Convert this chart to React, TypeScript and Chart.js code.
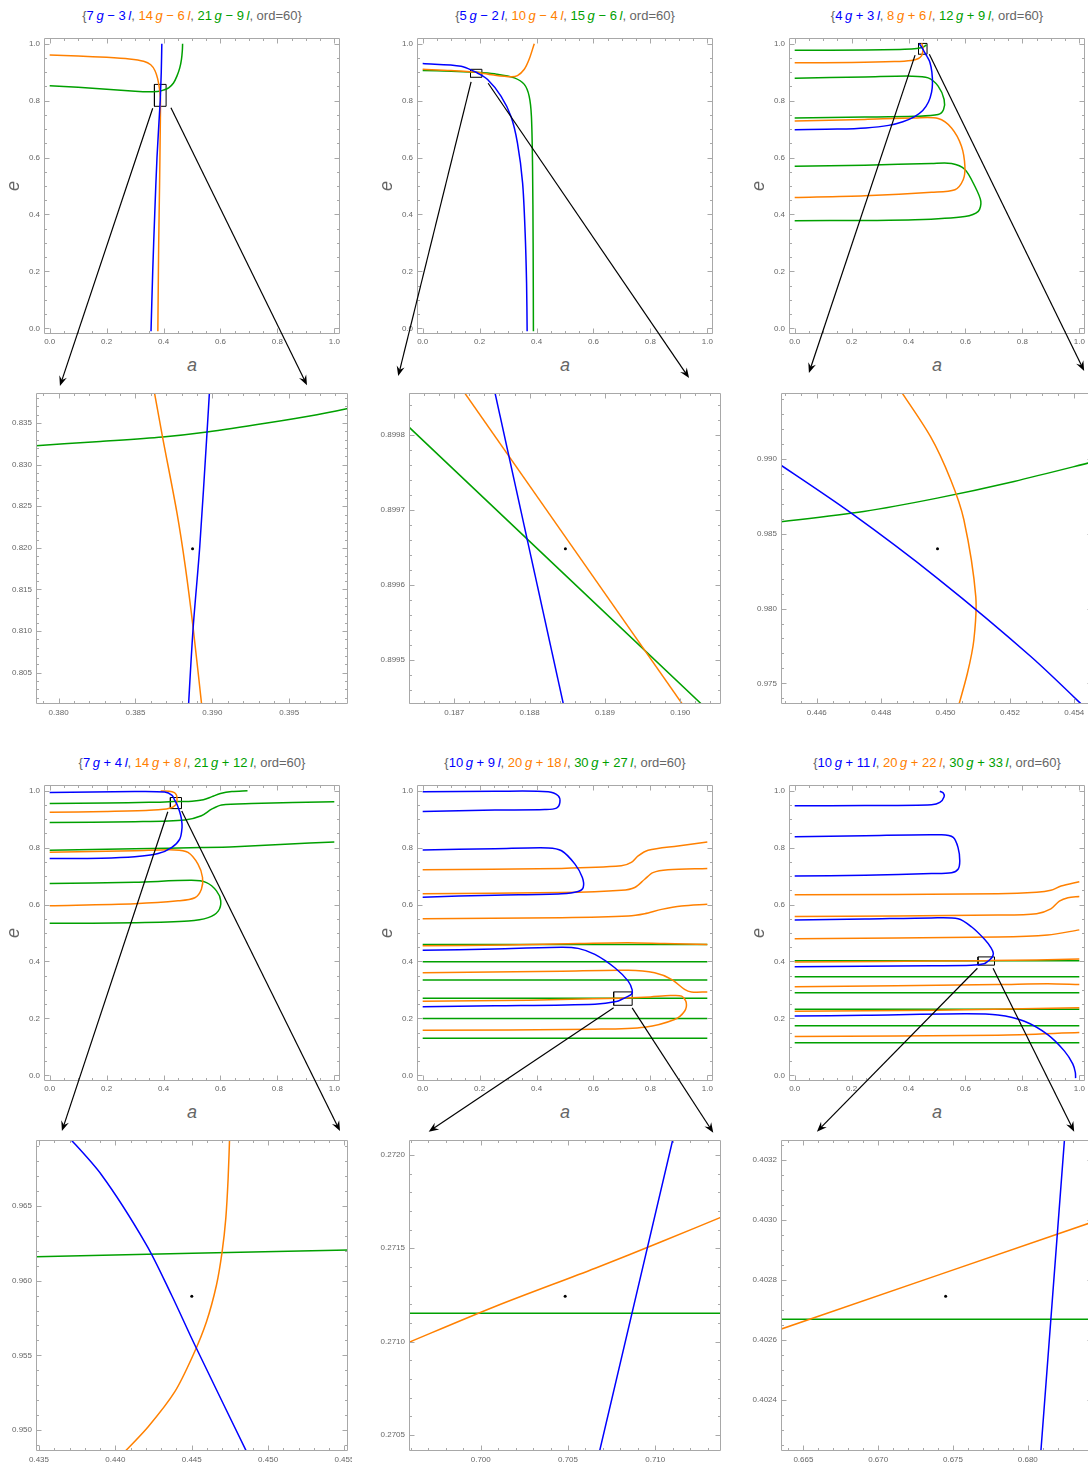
import React, { useEffect, useRef } from 'react';
import { Chart, registerables } from 'chart.js';

Chart.register(...registerables);

const BLUE = '#0000ff';
const ORANGE = '#ff8000';
const GREEN = '#00a000';
const FRAME = '#a8a8a8';
const LABEL = '#666666';
const FONT = "'Liberation Sans', Arial, sans-serif";

// ---------- titles ----------
const TITLE_BLUE = ['7 g − 3 l', '5 g − 2 l', '4 g + 3 l', '7 g + 4 l', '10 g + 9 l', '10 g + 11 l'];
const TITLE_ORANGE = ['14 g − 6 l', '10 g − 4 l', '8 g + 6 l', '14 g + 8 l', '20 g + 18 l', '20 g + 22 l'];
const TITLE_GREEN = ['21 g − 9 l', '15 g − 6 l', '12 g + 9 l', '21 g + 12 l', '30 g + 27 l', '30 g + 33 l'];
const TITLE_ORD = 'ord=60';
const X_LABEL = 'a';
const Y_LABEL = 'e';

// ---------- main plots ----------
const MAIN_RANGE = [-0.02, 1.02];
const MAIN_TICKS = [0.2, 0.05, 1]; // major step, minor step, decimals

// panel 1
const P1_BLUE = [[0.356, -0.01], [0.362, 0.2], [0.369, 0.4], [0.377, 0.6], [0.3884, 0.8013], [0.3898, 0.8386], [0.392, 0.9], [0.394, 1.0]];
const P1_ORANGE = [[0, 0.96], [0.1, 0.957], [0.2, 0.952], [0.28, 0.946], [0.33, 0.938], [0.355, 0.926], [0.37, 0.905], [0.379, 0.878], [0.3845, 0.85], [0.3868, 0.8333], [0.3882, 0.8178], [0.3893, 0.8012], [0.3885, 0.7], [0.386, 0.5], [0.383, 0.3], [0.381, 0.1], [0.38, -0.01]];
const P1_GREEN = [[0, 0.852], [0.1, 0.847], [0.2, 0.84], [0.3, 0.833], [0.35, 0.831], [0.3785, 0.8323], [0.389, 0.8338], [0.3988, 0.8367], [0.418, 0.845], [0.435, 0.862], [0.447, 0.886], [0.457, 0.915], [0.463, 0.945], [0.466, 0.975], [0.467, 1.0]];
const P1_RECT = [0.368, 0.409, 0.780, 0.857];
const P1_ARROWS = [[0.362, 0.773, 0.036, -0.203], [0.426, 0.775, 0.904, -0.2]];

// panel 2
const P2_BLUE = [[0, 0.93], [0.135, 0.921], [0.18754, 0.89986], [0.18845, 0.89944], [0.228, 0.874], [0.275, 0.816], [0.31, 0.745], [0.333, 0.651], [0.351, 0.511], [0.36, 0.334], [0.365, 0.158], [0.367, -0.01]];
const P2_ORANGE = [[0, 0.91], [0.1, 0.906], [0.1871, 0.89986], [0.19, 0.89944], [0.25, 0.89], [0.31, 0.884], [0.333, 0.888], [0.357, 0.91], [0.374, 0.945], [0.392, 1.0]];
const P2_GREEN = [[0, 0.906], [0.1, 0.903], [0.1864, 0.89981], [0.1903, 0.89944], [0.26, 0.893], [0.322, 0.88], [0.357, 0.857], [0.374, 0.816], [0.382, 0.745], [0.386, 0.569], [0.388, 0.3], [0.389, -0.01]];
const P2_RECT = [0.168, 0.208, 0.882, 0.910];
const P2_ARROWS = [[0.17, 0.866, -0.086, -0.168], [0.23, 0.861, 0.936, -0.175]];

// panel 3
const P3_GREEN_1 = [[0, 0.977], [0.25, 0.978], [0.37, 0.98], [0.42, 0.982], [0.444888, 0.9858], [0.44974, 0.98739], [0.454447, 0.98973], [0.46, 0.993], [0.463, 0.996]];
const P3_ORANGE_1 = [[0, 0.933], [0.2, 0.934], [0.35, 0.937], [0.41, 0.941], [0.435, 0.948], [0.446, 0.958], [0.45042, 0.97362], [0.45068, 0.97567], [0.45088, 0.9779], [0.45094, 0.9808], [0.45078, 0.98415], [0.45057, 0.98594], [0.45016, 0.98862], [0.44953, 0.99152], [0.44865, 0.99442], [0.446, 1.002]];
const P3_BLUE = [[0, 0.698], [0.15, 0.7], [0.25, 0.704], [0.33, 0.713], [0.38, 0.726], [0.42, 0.743], [0.45, 0.765], [0.47, 0.795], [0.481, 0.83], [0.484, 0.86], [0.482, 0.9], [0.475, 0.935], [0.465, 0.955], [0.454, 0.97366], [0.45265, 0.97679], [0.44974, 0.98204], [0.447039, 0.98643], [0.444888, 0.98962], [0.441, 0.995], [0.438, 1.0]];
const P3_GREEN_2 = [[0, 0.879], [0.246, 0.883], [0.41, 0.886], [0.469, 0.88], [0.504, 0.851], [0.525, 0.804], [0.523, 0.769], [0.504, 0.751], [0.422, 0.745], [0.246, 0.742], [0, 0.739]];
const P3_ORANGE_2 = [[0, 0.728], [0.246, 0.734], [0.422, 0.739], [0.504, 0.737], [0.551, 0.704], [0.586, 0.64], [0.598, 0.569], [0.592, 0.522], [0.563, 0.487], [0.481, 0.478], [0.246, 0.466], [0, 0.46]];
const P3_GREEN_3 = [[0, 0.569], [0.246, 0.573], [0.481, 0.579], [0.551, 0.579], [0.598, 0.558], [0.633, 0.499], [0.654, 0.446], [0.645, 0.411], [0.598, 0.393], [0.422, 0.381], [0.246, 0.379], [0, 0.378]];
const P3_RECT = [0.435, 0.465, 0.963, 1.001];
const P3_ARROWS = [[0.423, 0.96, 0.05, -0.157], [0.473, 0.963, 1.017, -0.15]];

// panel 4
const P4_BLUE = [[0, 0.994], [0.299, 0.997], [0.404, 0.995], [0.43, 0.9835], [0.439099, 0.967076], [0.442042, 0.962388], [0.445203, 0.955692], [0.448583, 0.948594], [0.457, 0.925], [0.463, 0.9], [0.465, 0.871], [0.457, 0.83], [0.428, 0.8], [0.381, 0.779], [0.299, 0.768], [0.182, 0.763], [0, 0.762]];
const P4_ORANGE_1 = [[0, 0.924], [0.2, 0.927], [0.35, 0.931], [0.41, 0.936], [0.432, 0.942], [0.440625, 0.948594], [0.443895, 0.952567], [0.445966, 0.957254], [0.446991, 0.961942], [0.447384, 0.966853], [0.4472, 0.975], [0.445, 0.985], [0.438, 0.993], [0.42, 0.998], [0.39, 0.999]];
const P4_GREEN_1 = [[0, 0.955], [0.2, 0.957], [0.35, 0.959], [0.4348, 0.9616], [0.4552, 0.9621], [0.5, 0.963], [0.54, 0.968], [0.57, 0.979], [0.6, 0.99], [0.64, 0.997], [0.695, 1.0]];
const P4_GREEN_2 = [[0, 0.888], [0.299, 0.891], [0.475, 0.897], [0.533, 0.912], [0.569, 0.935], [0.604, 0.95], [0.709, 0.955], [1.0, 0.961]];
const P4_GREEN_3 = [[0, 0.791], [0.299, 0.796], [0.533, 0.8], [0.651, 0.803], [0.827, 0.812], [1.0, 0.82]];
const P4_ORANGE_2 = [[0, 0.784], [0.299, 0.789], [0.44, 0.792], [0.486, 0.783], [0.521, 0.742], [0.537, 0.695], [0.533, 0.654], [0.51, 0.624], [0.451, 0.613], [0.299, 0.603], [0, 0.596]];
const P4_GREEN_4 = [[0, 0.674], [0.299, 0.678], [0.498, 0.685], [0.551, 0.677], [0.586, 0.648], [0.601, 0.613], [0.592, 0.577], [0.557, 0.554], [0.487, 0.542], [0.299, 0.536], [0, 0.534]];
const P4_RECT = [0.424, 0.463, 0.937, 0.976];
const P4_ARROWS = [[0.415, 0.926, 0.043, -0.196], [0.464, 0.929, 1.02, -0.196]];

// panel 5
const P5_BLUE_1 = [[0, 0.927], [0.254, 0.932], [0.429, 0.934], [0.47, 0.939], [0.482, 0.959], [0.476, 0.982], [0.441, 0.9965], [0.254, 0.998], [0, 0.9965]];
const P5_BLUE_2 = [[0, 0.792], [0.254, 0.796], [0.441, 0.799], [0.488, 0.789], [0.535, 0.742], [0.561, 0.695], [0.564, 0.66], [0.546, 0.646], [0.488, 0.638], [0.254, 0.633], [0, 0.626]];
const P5_BLUE_3 = [[0, 0.439], [0.254, 0.444], [0.488, 0.45], [0.546, 0.446], [0.605, 0.425], [0.675, 0.378], [0.722, 0.331], [0.736, 0.3], [0.7335, 0.285], [0.711, 0.2721], [0.7068, 0.2704], [0.68, 0.259], [0.605, 0.25], [0.254, 0.244], [0, 0.241]];
const P5_ORANGE_1 = [[0, 0.722], [0.488, 0.727], [0.698, 0.736], [0.733, 0.748], [0.757, 0.771], [0.792, 0.791], [0.897, 0.806], [1.0, 0.82]];
const P5_ORANGE_2 = [[0, 0.638], [0.488, 0.642], [0.698, 0.65], [0.745, 0.66], [0.78, 0.689], [0.809, 0.712], [0.862, 0.722], [1.0, 0.727]];
const P5_ORANGE_3 = [[0, 0.55], [0.488, 0.554], [0.722, 0.56], [0.78, 0.568], [0.839, 0.583], [0.909, 0.595], [1.0, 0.601]];
const P5_ORANGE_4 = [[0, 0.455], [0.3, 0.458], [0.55, 0.463], [0.72, 0.466], [0.85, 0.463], [1.0, 0.46]];
const P5_ORANGE_5 = [[0, 0.36], [0.488, 0.366], [0.722, 0.369], [0.815, 0.36], [0.874, 0.337], [0.92, 0.302], [0.944, 0.293], [1.0, 0.293]];
const P5_ORANGE_6 = [[0, 0.2605], [0.371, 0.264], [0.6, 0.2694], [0.6959, 0.271], [0.7048, 0.27131], [0.7138, 0.27167], [0.8, 0.2755], [0.87, 0.28], [0.91, 0.278], [0.926, 0.255], [0.92, 0.225], [0.885, 0.196], [0.78, 0.169], [0.605, 0.162], [0, 0.158]];
const P5_GREENS = [
  [[0, 0.46], [1, 0.46]],
  [[0, 0.399], [1, 0.399]],
  [[0, 0.3345], [1, 0.3345]],
  [[0, 0.27115], [1, 0.27115]],
  [[0, 0.1995], [1, 0.1995]],
  [[0, 0.1303], [1, 0.1303]],
];
const P5_RECT = [0.671, 0.736, 0.246, 0.293];
const P5_ARROWS = [[0.671, 0.237, 0.021, -0.198], [0.736, 0.237, 1.021, -0.202]];

// panel 6
const P6_BLUE_1 = [[0, 0.947], [0.247, 0.948], [0.481, 0.951], [0.51, 0.959], [0.525, 0.979], [0.522, 0.992], [0.51, 0.998]];
const P6_BLUE_2 = [[0, 0.838], [0.247, 0.842], [0.516, 0.845], [0.557, 0.836], [0.574, 0.8], [0.58, 0.754], [0.574, 0.724], [0.551, 0.712], [0.481, 0.709], [0.247, 0.703], [0, 0.7]];
const P6_BLUE_3 = [[0, 0.546], [0.247, 0.549], [0.481, 0.553], [0.574, 0.55], [0.621, 0.522], [0.667, 0.478], [0.69, 0.448], [0.698, 0.428], [0.693, 0.414], [0.6824, 0.40327], [0.6809, 0.40223], [0.665, 0.392], [0.62, 0.3865], [0.481, 0.385], [0, 0.381]];
const P6_BLUE_4 = [[0, 0.208], [0.247, 0.211], [0.597, 0.216], [0.714, 0.212], [0.807, 0.19], [0.889, 0.143], [0.948, 0.085], [0.977, 0.04], [0.986, 0.01], [0.987, -0.01]];
const P6_ORANGES = [
  [[0, 0.634], [0.714, 0.638], [0.85, 0.643], [0.9, 0.65], [0.936, 0.665], [1.0, 0.68]],
  [[0, 0.558], [0.714, 0.563], [0.85, 0.568], [0.9, 0.585], [0.93, 0.612], [0.96, 0.624], [1.0, 0.628]],
  [[0, 0.48], [0.714, 0.486], [0.889, 0.493], [1.0, 0.511]],
  [[0, 0.398], [0.3, 0.4], [0.6635, 0.40264], [0.6844, 0.403], [0.85, 0.405], [1.0, 0.409]],
  [[0, 0.311], [0.714, 0.319], [0.889, 0.322], [1.0, 0.319]],
  [[0, 0.225], [0.5, 0.229], [1.0, 0.237]],
  [[0, 0.136], [0.714, 0.141], [1.0, 0.15]],
];
const P6_GREENS = [
  [[0, 0.402669], [1, 0.402669]],
  [[0, 0.346], [1, 0.346]],
  [[0, 0.29], [1, 0.29]],
  [[0, 0.232], [1, 0.232]],
  [[0, 0.174], [1, 0.174]],
  [[0, 0.114], [1, 0.114]],
];
const P6_RECT = [0.644, 0.702, 0.387, 0.416];
const P6_ARROWS = [[0.642, 0.376, 0.078, -0.198], [0.697, 0.376, 0.982, -0.198]];

// ---------- zoom plots ----------
const Z1_X = [0.37853, 0.39882];
const Z1_Y = [0.80123, 0.83861];
const Z1_XT = [0.005, 0.001, 3];
const Z1_YT = [0.005, 0.001, 3];
const Z1_DOT = [0.38871, 0.81988];
const Z1_BLUE = [[0.3884, 0.7995], [0.38874, 0.81013], [0.38918, 0.82016], [0.38965, 0.8338], [0.38985, 0.84]];
const Z1_ORANGE = [[0.3861, 0.84], [0.38676, 0.83332], [0.3877, 0.82417], [0.38824, 0.81775], [0.38874, 0.81053], [0.3894, 0.7995]];
const Z1_GREEN = [[0.378, 0.83222], [0.38271, 0.83279], [0.38676, 0.83332], [0.38965, 0.83392], [0.39355, 0.835], [0.3968, 0.836], [0.3995, 0.837]];

const Z2_X = [0.1864, 0.19054];
const Z2_Y = [0.899441, 0.899856];
const Z2_XT = [0.001, 0.0002, 3];
const Z2_YT = [0.0001, 0.00002, 4];
const Z2_DOT = [0.188475, 0.899648];
const Z2_BLUE = [[0.1875, 0.899875], [0.18854, 0.899399]];
const Z2_ORANGE = [[0.187, 0.899876], [0.1902, 0.899416]];
const Z2_GREEN = [[0.1863, 0.89982], [0.1905, 0.89942]];

const Z3_X = [0.444888, 0.454582];
const Z3_Y = [0.973616, 0.99442];
const Z3_XT = [0.002, 0.0005, 3];
const Z3_YT = [0.005, 0.001, 3];
const Z3_DOT = [0.449751, 0.983996];
const Z3_BLUE = [[0.4445, 0.99015], [0.447039, 0.98643], [0.44974, 0.98204], [0.45265, 0.97679], [0.4548, 0.9724]];
const Z3_ORANGE = [[0.44847, 0.995], [0.44953, 0.99152], [0.45016, 0.98862], [0.45057, 0.98594], [0.45094, 0.9808], [0.45088, 0.9779], [0.45068, 0.97567], [0.45034, 0.973]];
const Z3_GREEN = [[0.4445, 0.98571], [0.447455, 0.986496], [0.44974, 0.987388], [0.45213, 0.988504], [0.4548, 0.98993]];

const Z4_X = [0.434804, 0.455232];
const Z4_Y = [0.948594, 0.96942];
const Z4_XT = [0.005, 0.001, 3];
const Z4_YT = [0.005, 0.001, 3];
const Z4_DOT = [0.445004, 0.958951];
const Z4_BLUE = [[0.4366, 0.97], [0.439099, 0.967076], [0.442042, 0.962388], [0.443677, 0.95904], [0.445203, 0.955692], [0.4489, 0.9479]];
const Z4_ORANGE = [[0.440407, 0.948326], [0.442151, 0.950223], [0.443895, 0.952567], [0.445094, 0.955022], [0.445966, 0.957254], [0.446621, 0.95971], [0.446991, 0.961942], [0.447231, 0.964174], [0.447384, 0.966853], [0.447493, 0.96998]];
const Z4_GREEN = [[0.4345, 0.9616], [0.4556, 0.962062]];

const Z5_X = [0.695889, 0.713767];
const Z5_Y = [0.270414, 0.27208];
const Z5_XT = [0.005, 0.001, 3];
const Z5_YT = [0.0005, 0.0001, 4];
const Z5_DOT = [0.704837, 0.271243];
const Z5_BLUE = [[0.7066, 0.27033], [0.7112, 0.27216]];
const Z5_ORANGE = [[0.6955, 0.270981], [0.700822, 0.271188], [0.706558, 0.271393], [0.710382, 0.271536], [0.7142, 0.271683]];
const Z5_GREEN = [[0.6955, 0.271152], [0.7142, 0.271152]];

const Z6_X = [0.663502, 0.684359];
const Z6_Y = [0.40223, 0.403267];
const Z6_XT = [0.005, 0.001, 3];
const Z6_YT = [0.0002, 0.00005, 4];
const Z6_DOT = [0.674509, 0.402746];
const Z6_BLUE = [[0.68083, 0.4022], [0.6825, 0.4033]];
const Z6_ORANGE = [[0.6633, 0.402633], [0.6846, 0.402998]];
const Z6_GREEN = [[0.6633, 0.402669], [0.6846, 0.402669]];

// ---------- panel table built from the arrays ----------
const PANELS = [
  {
    main: [[P1_BLUE, BLUE], [P1_ORANGE, ORANGE], [P1_GREEN, GREEN]], rect: P1_RECT, arrows: P1_ARROWS,
    zx: Z1_X, zy: Z1_Y, zxt: Z1_XT, zyt: Z1_YT, dot: Z1_DOT,
    zoom: [[Z1_BLUE, BLUE], [Z1_ORANGE, ORANGE], [Z1_GREEN, GREEN]],
  },
  {
    main: [[P2_BLUE, BLUE], [P2_ORANGE, ORANGE], [P2_GREEN, GREEN]], rect: P2_RECT, arrows: P2_ARROWS,
    zx: Z2_X, zy: Z2_Y, zxt: Z2_XT, zyt: Z2_YT, dot: Z2_DOT,
    zoom: [[Z2_BLUE, BLUE], [Z2_ORANGE, ORANGE], [Z2_GREEN, GREEN]],
  },
  {
    main: [[P3_BLUE, BLUE], [P3_ORANGE_1, ORANGE], [P3_ORANGE_2, ORANGE], [P3_GREEN_1, GREEN], [P3_GREEN_2, GREEN], [P3_GREEN_3, GREEN]],
    rect: P3_RECT, arrows: P3_ARROWS,
    zx: Z3_X, zy: Z3_Y, zxt: Z3_XT, zyt: Z3_YT, dot: Z3_DOT,
    zoom: [[Z3_BLUE, BLUE], [Z3_ORANGE, ORANGE], [Z3_GREEN, GREEN]],
  },
  {
    main: [[P4_BLUE, BLUE], [P4_ORANGE_1, ORANGE], [P4_ORANGE_2, ORANGE], [P4_GREEN_1, GREEN], [P4_GREEN_2, GREEN], [P4_GREEN_3, GREEN], [P4_GREEN_4, GREEN]],
    rect: P4_RECT, arrows: P4_ARROWS,
    zx: Z4_X, zy: Z4_Y, zxt: Z4_XT, zyt: Z4_YT, dot: Z4_DOT,
    zoom: [[Z4_BLUE, BLUE], [Z4_ORANGE, ORANGE], [Z4_GREEN, GREEN]],
  },
  {
    main: [
      [P5_BLUE_1, BLUE], [P5_BLUE_2, BLUE], [P5_BLUE_3, BLUE],
      [P5_ORANGE_1, ORANGE], [P5_ORANGE_2, ORANGE], [P5_ORANGE_3, ORANGE], [P5_ORANGE_4, ORANGE], [P5_ORANGE_5, ORANGE], [P5_ORANGE_6, ORANGE],
      ...P5_GREENS.map((g) => [g, GREEN]),
    ],
    rect: P5_RECT, arrows: P5_ARROWS,
    zx: Z5_X, zy: Z5_Y, zxt: Z5_XT, zyt: Z5_YT, dot: Z5_DOT,
    zoom: [[Z5_BLUE, BLUE], [Z5_ORANGE, ORANGE], [Z5_GREEN, GREEN]],
  },
  {
    main: [
      [P6_BLUE_1, BLUE], [P6_BLUE_2, BLUE], [P6_BLUE_3, BLUE], [P6_BLUE_4, BLUE],
      ...P6_ORANGES.map((o) => [o, ORANGE]),
      ...P6_GREENS.map((g) => [g, GREEN]),
    ],
    rect: P6_RECT, arrows: P6_ARROWS,
    zx: Z6_X, zy: Z6_Y, zxt: Z6_XT, zyt: Z6_YT, dot: Z6_DOT,
    zoom: [[Z6_BLUE, BLUE], [Z6_ORANGE, ORANGE], [Z6_GREEN, GREEN]],
  },
];

// ---------- layout ----------
const COL_X = [0, 373, 745];
const ROW_Y = [0, 747];
const MAIN_BOX = { left: 44, top: 38, w: 296, h: 296 };
const ZOOM_BOX = { left: 36, top: 393, w: 312, h: 311 };
const MAIN_PAD = { l: 40, t: 6, r: 6, b: 20 };
const ZOOM_PAD = { l: 36, t: 4, r: 4, b: 20 };

function geom(i: number) {
  const cx = COL_X[i % 3];
  const ry = ROW_Y[Math.floor(i / 3)];
  const mLeft = MAIN_BOX.left + cx;
  const mTop = MAIN_BOX.top + ry;
  const zLeft = ZOOM_BOX.left + cx;
  const zTop = ZOOM_BOX.top + ry;
  return {
    cx, ry, mLeft, mTop, zLeft, zTop,
    mc: { left: mLeft - MAIN_PAD.l, top: mTop - MAIN_PAD.t, w: MAIN_BOX.w + MAIN_PAD.l + MAIN_PAD.r, h: MAIN_BOX.h + MAIN_PAD.t + MAIN_PAD.b },
    zc: { left: zLeft - ZOOM_PAD.l, top: zTop - ZOOM_PAD.t, w: ZOOM_BOX.w + ZOOM_PAD.l + ZOOM_PAD.r, h: ZOOM_BOX.h + ZOOM_PAD.t + ZOOM_PAD.b },
  };
}

function tickValues(min: number, max: number, step: number) {
  const out: number[] = [];
  const k0 = Math.ceil(min / step - 1e-7);
  const k1 = Math.floor(max / step + 1e-7);
  for (let k = k0; k <= k1; k++) out.push(parseFloat((k * step).toFixed(10)));
  return out;
}

const framePlugin = {
  id: 'mmaFrame',
  afterDatasetsDraw(chart: any, _args: any, opts: any) {
    const { ctx, chartArea: a } = chart;
    const xs = chart.scales.x;
    const ys = chart.scales.y;
    const L = Math.round(a.left) + 0.5;
    const R = Math.round(a.right) - 0.5;
    const T = Math.round(a.top) + 0.5;
    const B = Math.round(a.bottom) - 0.5;
    ctx.save();
    ctx.strokeStyle = FRAME;
    ctx.lineWidth = 1;
    ctx.beginPath();
    ctx.rect(L, T, R - L, B - T);
    const isMajor = (v: number, s: number) => Math.abs(v / s - Math.round(v / s)) < 1e-6;
    const [xMaj, xMin] = opts.xt;
    const [yMaj, yMin] = opts.yt;
    for (const v of tickValues(xs.min, xs.max, xMin)) {
      const p = Math.round(xs.getPixelForValue(v)) + 0.5;
      const len = isMajor(v, xMaj) ? 5 : 2.5;
      ctx.moveTo(p, B); ctx.lineTo(p, B - len);
      ctx.moveTo(p, T); ctx.lineTo(p, T + len);
    }
    for (const v of tickValues(ys.min, ys.max, yMin)) {
      const p = Math.round(ys.getPixelForValue(v)) + 0.5;
      const len = isMajor(v, yMaj) ? 5 : 2.5;
      ctx.moveTo(L, p); ctx.lineTo(L + len, p);
      ctx.moveTo(R, p); ctx.lineTo(R - len, p);
    }
    ctx.stroke();
    ctx.restore();
  },
};

function curveDataset(pts: number[][], color: string) {
  return {
    data: pts.map(([x, y]) => ({ x, y })),
    showLine: true,
    borderColor: color,
    backgroundColor: color,
    borderWidth: 1.5,
    pointRadius: 0,
    tension: 0.3,
    capBezierPoints: false,
    fill: false,
  };
}

function buildConfig(datasets: any[], xr: number[], yr: number[], xt: number[], yt: number[], pad: any, labelPad: number) {
  const axis = (range: number[], t: number[], isX: boolean) => ({
    type: 'linear',
    min: range[0],
    max: range[1],
    grid: { display: false, drawTicks: false },
    border: { display: false },
    ticks: {
      font: { family: FONT, size: 8 },
      color: LABEL,
      padding: isX ? labelPad : 4,
      maxRotation: 0,
      minRotation: 0,
      autoSkip: false,
      callback: (v: any) => Number(v).toFixed(t[2]),
    },
    afterBuildTicks: (s: any) => {
      s.ticks = tickValues(range[0], range[1], t[0]).map((v) => ({ value: v }));
    },
    afterFit: (s: any) => {
      if (isX) s.height = pad.b; else s.width = pad.l;
      s.paddingLeft = 0; s.paddingRight = 0; s.paddingTop = 0; s.paddingBottom = 0;
    },
  });
  return {
    type: 'scatter',
    data: { datasets },
    options: {
      responsive: false,
      maintainAspectRatio: false,
      animation: false,
      events: [],
      layout: { padding: { left: 0, top: pad.t, right: pad.r, bottom: 0 } },
      plugins: {
        legend: { display: false },
        title: { display: false },
        tooltip: { enabled: false },
        mmaFrame: { xt, yt },
      },
      scales: { x: axis(xr, xt, true), y: axis(yr, yt, false) },
    },
    plugins: [framePlugin],
  } as any;
}

function drawArrow(ctx: CanvasRenderingContext2D, x0: number, y0: number, x1: number, y1: number) {
  const ang = Math.atan2(y1 - y0, x1 - x0);
  const c = Math.cos(ang), s = Math.sin(ang);
  const len = 10, half = 4;
  ctx.strokeStyle = '#000';
  ctx.fillStyle = '#000';
  ctx.lineWidth = 1.2;
  ctx.beginPath();
  ctx.moveTo(x0, y0);
  ctx.lineTo(x1 - c * len * 0.6, y1 - s * len * 0.6);
  ctx.stroke();
  ctx.beginPath();
  ctx.moveTo(x1, y1);
  ctx.lineTo(x1 - c * len - s * half, y1 - s * len + c * half);
  ctx.lineTo(x1 - c * len * 0.65, y1 - s * len * 0.65);
  ctx.lineTo(x1 - c * len + s * half, y1 - s * len - c * half);
  ctx.closePath();
  ctx.fill();
}

function Term({ text, color }: { text: string; color: string }) {
  const [c1, v1, op, c2, v2] = text.split(' ');
  return (
    <span style={{ color }}>
      {c1}{'\u2009'}<i>{v1}</i>{' ' + op + ' '}{c2}{'\u2009'}<i>{v2}</i>
    </span>
  );
}

export default function App() {
  const mainRefs = useRef<Array<HTMLCanvasElement | null>>([]);
  const zoomRefs = useRef<Array<HTMLCanvasElement | null>>([]);
  const overlayRef = useRef<HTMLCanvasElement | null>(null);

  useEffect(() => {
    const charts: Chart[] = [];
    const mains: Chart[] = [];
    PANELS.forEach((p, i) => {
      const r = p.rect;
      const mainSets = p.main.map(([pts, col]: any) => curveDataset(pts, col));
      mainSets.push({
        data: [[r[0], r[2]], [r[1], r[2]], [r[1], r[3]], [r[0], r[3]], [r[0], r[2]]].map(([x, y]) => ({ x, y })),
        showLine: true, borderColor: '#000', backgroundColor: '#000', borderWidth: 1, pointRadius: 0, tension: 0, fill: false,
      } as any);
      const m = new Chart(mainRefs.current[i] as HTMLCanvasElement,
        buildConfig(mainSets, MAIN_RANGE, MAIN_RANGE, MAIN_TICKS, MAIN_TICKS, MAIN_PAD, 3));
      mains.push(m);
      charts.push(m);

      const zoomSets = p.zoom.map(([pts, col]: any) => curveDataset(pts, col));
      zoomSets.push({
        data: [{ x: p.dot[0], y: p.dot[1] }],
        showLine: false, pointRadius: 1.5, pointBorderWidth: 0, pointBackgroundColor: '#000', backgroundColor: '#000', borderColor: '#000',
      } as any);
      const z = new Chart(zoomRefs.current[i] as HTMLCanvasElement,
        buildConfig(zoomSets, p.zx, p.zy, p.zxt, p.zyt, ZOOM_PAD, 4));
      charts.push(z);
    });

    const ov = overlayRef.current as HTMLCanvasElement;
    const ctx = ov.getContext('2d') as CanvasRenderingContext2D;
    ctx.clearRect(0, 0, ov.width, ov.height);
    PANELS.forEach((p, i) => {
      const g = geom(i);
      const m = mains[i];
      p.arrows.forEach(([sx, sy, tx, ty]) => {
        const x0 = g.mc.left + m.scales.x.getPixelForValue(sx);
        const y0 = g.mc.top + m.scales.y.getPixelForValue(sy);
        const x1 = g.mc.left + m.scales.x.getPixelForValue(tx);
        const y1 = g.mc.top + m.scales.y.getPixelForValue(ty);
        drawArrow(ctx, x0, y0, x1, y1);
      });
    });

    return () => {
      charts.forEach((c) => c.destroy());
    };
  }, []);

  const textBase: React.CSSProperties = { position: 'absolute', fontFamily: FONT, whiteSpace: 'nowrap' };

  return (
    <div style={{ position: 'absolute', left: 0, top: 0, width: 1088, height: 1467, overflow: 'hidden', background: '#fff' }}>
      {PANELS.map((_p, i) => {
        const g = geom(i);
        const centerX = g.mLeft + MAIN_BOX.w / 2;
        return (
          <React.Fragment key={i}>
            <div style={{ ...textBase, left: centerX - 160, width: 320, top: g.ry + 7, height: 18, lineHeight: '18px', textAlign: 'center', fontSize: 13, color: LABEL }}>
              {'{'}<Term text={TITLE_BLUE[i]} color={BLUE} />{', '}<Term text={TITLE_ORANGE[i]} color={ORANGE} />{', '}<Term text={TITLE_GREEN[i]} color={GREEN} />{', ' + TITLE_ORD + '}'}
            </div>
            <canvas
              ref={(el) => { mainRefs.current[i] = el; }}
              width={g.mc.w}
              height={g.mc.h}
              style={{ position: 'absolute', left: g.mc.left, top: g.mc.top, width: g.mc.w, height: g.mc.h }}
            />
            <div style={{ ...textBase, left: centerX - 15, width: 30, top: g.mTop + MAIN_BOX.h + 20, height: 22, lineHeight: '22px', textAlign: 'center', fontSize: 18, fontStyle: 'italic', color: LABEL }}>
              {X_LABEL}
            </div>
            <div style={{ ...textBase, left: g.mLeft - 31.5 - 15, width: 30, top: g.mTop + MAIN_BOX.h / 2 - 11, height: 22, lineHeight: '22px', textAlign: 'center', fontSize: 18, fontStyle: 'italic', color: LABEL, transform: 'rotate(-90deg)' }}>
              {Y_LABEL}
            </div>
            <canvas
              ref={(el) => { zoomRefs.current[i] = el; }}
              width={g.zc.w}
              height={g.zc.h}
              style={{ position: 'absolute', left: g.zc.left, top: g.zc.top, width: g.zc.w, height: g.zc.h }}
            />
          </React.Fragment>
        );
      })}
      <canvas ref={overlayRef} width={1088} height={1467} style={{ position: 'absolute', left: 0, top: 0, width: 1088, height: 1467, pointerEvents: 'none' }} />
    </div>
  );
}
